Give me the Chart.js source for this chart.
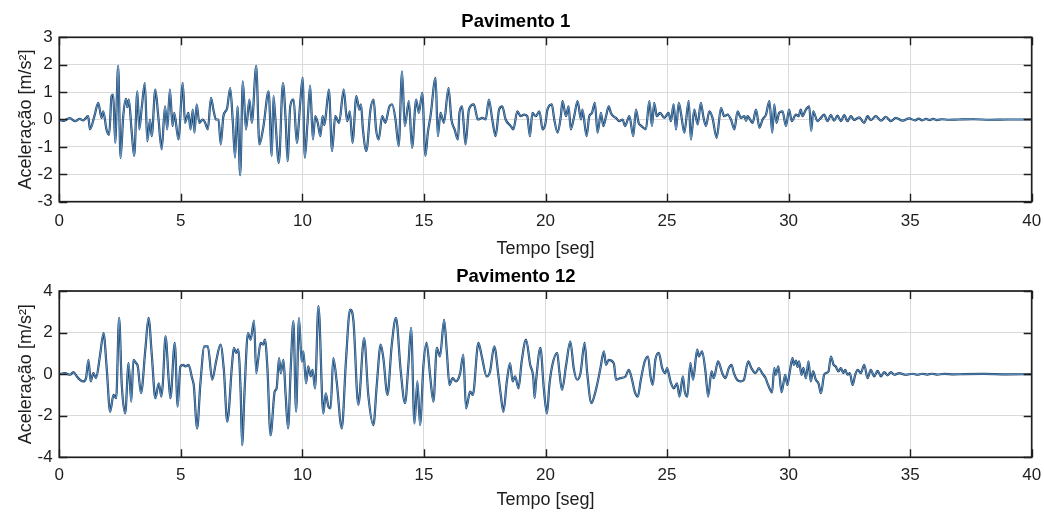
<!DOCTYPE html>
<html>
<head>
<meta charset="utf-8">
<script src="https://cdn.jsdelivr.net/npm/chart.js@4.4.1/dist/chart.umd.min.js"></script>
<style>
  html, body { margin: 0; padding: 0; background: #ffffff; }
  #wrap { position: relative; width: 1044px; height: 512px; overflow: hidden; }
  canvas { position: absolute; left: 0; }
  #c1 { top: 0; }
  #c2 { top: 262px; }
</style>
</head>
<body>
<div id="wrap">
  <canvas id="c1" width="1044" height="262"></canvas>
  <canvas id="c2" width="1044" height="250"></canvas>
</div>
<script>
// ---------- DATA ----------
const title1 = "Pavimento 1";
const title2 = "Pavimento 12";
const xTitle = "Tempo [seg]";
const yTitle = "Aceleração [m/s²]";

const xTickValues = [0, 5, 10, 15, 20, 25, 30, 35, 40];
const yTickValues1 = [-3, -2, -1, 0, 1, 2, 3];
const yTickValues2 = [-4, -2, 0, 2, 4];

// Pavimento 1 : time [s]
const time1 = [
  0, 0.16, 0.43, 0.64, 0.84, 0.98, 1.19, 1.26, 1.46, 1.60, 1.74, 1.81, 1.94, 2.05, 2.15, 2.22, 2.30, 2.42, 2.52, 2.63,
  2.74, 2.80, 2.86, 2.97, 3.08, 3.21, 3.29, 3.39, 3.52, 3.62, 3.73, 3.80, 3.95, 4.07, 4.21, 4.35, 4.44, 4.55, 4.66, 4.73,
  4.90, 5.08, 5.17, 5.31, 5.40, 5.49, 5.56, 5.65, 5.76, 5.90, 6.00, 6.11, 6.24, 6.34, 6.44, 6.55, 6.64, 6.75, 6.90, 7.03,
  7.14, 7.23, 7.33, 7.44, 7.55, 7.68, 7.82, 7.92, 8.10, 8.23, 8.40, 8.61, 8.74, 8.81, 8.88, 9.03, 9.20, 9.31, 9.39, 9.50,
  9.64, 9.77, 9.91, 10.01, 10.10, 10.21, 10.32, 10.43, 10.53, 10.63, 10.74, 10.83, 10.90, 10.96, 11.09, 11.22, 11.35, 11.51, 11.70, 11.84,
  11.95, 12.06, 12.22, 12.34, 12.41, 12.49, 12.63, 12.80, 12.93, 13.03, 13.14, 13.28, 13.41, 13.58, 13.69, 13.83, 13.96, 14.10, 14.21, 14.38,
  14.51, 14.68, 14.79, 14.93, 15.06, 15.16, 15.27, 15.48, 15.57, 15.68, 15.82, 16.01, 16.13, 16.26, 16.40, 16.46, 16.57, 16.64, 16.71, 16.85,
  17.05, 17.22, 17.40, 17.54, 17.67, 17.81, 17.95, 18.09, 18.22, 18.36, 18.57, 18.68, 18.84, 18.98, 19.12, 19.25, 19.36, 19.46, 19.60, 19.75,
  19.88, 19.99, 20.08, 20.26, 20.36, 20.50, 20.63, 20.70, 20.84, 20.95, 21.04, 21.18, 21.32, 21.46, 21.52, 21.69, 21.80, 21.91, 22.03, 22.14,
  22.28, 22.38, 22.49, 22.60, 22.69, 22.79, 22.90, 23.03, 23.17, 23.27, 23.45, 23.61, 23.72, 23.83, 23.95, 24.13, 24.27, 24.38, 24.47, 24.58,
  24.71, 24.89, 25.06, 25.16, 25.27, 25.37, 25.48, 25.57, 25.71, 25.89, 25.98, 26.12, 26.26, 26.39, 26.49, 26.60, 26.74, 26.87, 27.04, 27.22,
  27.35, 27.49, 27.63, 27.77, 27.90, 28.04, 28.18, 28.25, 28.31, 28.52, 28.66, 28.80, 28.93, 29.07, 29.21, 29.33, 29.41, 29.50, 29.61, 29.75,
  29.89, 30.02, 30.13, 30.30, 30.41, 30.50, 30.57, 30.71, 30.85, 30.93, 31.01, 31.19, 31.33, 31.46, 31.60, 31.74, 31.87, 32.01, 32.15, 32.29,
  32.42, 32.56, 32.70, 32.90, 33.11, 33.25, 33.38, 33.59, 33.80, 34.00, 34.21, 34.41, 34.69, 34.96, 35.20, 35.35, 35.50, 35.65, 35.80, 35.95,
  36.10, 36.30, 36.60, 37.00, 37.60, 38.30, 39.00, 40.00
];
// Pavimento 1 : acceleration [m/s2]
const accel1 = [
  0, -0.05, 0.05, -0.06, 0.02, -0.03, 0.12, -0.36, 0.18, 0.61, 0.06, 0.30, -0.36, -0.55, 0.85, 0.91, -0.85, 1.96, -1.40, 0.12,
  0.75, 0.45, 0.73, -0.36, -1.33, 1.03, -0.36, 0.42, 1.33, -0.79, 0.00, -0.61, 1.09, 0.12, -1.09, 0.48, -0.36, 1.09, -0.24, 0.24,
  -0.73, 1.33, -0.12, 0.24, -0.36, 0.36, -0.48, 0.55, -0.12, 0.00, -0.12, -0.36, 0.79, 0.36, 0.00, 0.00, -0.91, 0.12, 0.40, 1.15,
  -0.12, -1.39, 0.48, -2.03, 1.39, -0.36, 0.73, -0.12, 1.96, -0.91, -0.24, 1.03, -1.33, 0.85, 0.12, -1.58, 1.33, 0.00, -1.52, 0.48,
  0.73, -0.85, 0.61, 1.52, -1.39, -0.12, 1.24, -0.73, 0.12, -0.12, -0.61, 0.12, -0.20, 0.12, 1.09, -1.15, 0.12, -0.12, 1.09, -0.06,
  0.30, -0.85, 0.85, 0.36, 0.55, -0.36, -1.15, 0.36, 0.73, -0.36, -0.73, 0.12, -0.12, 0.48, 0.55, 0.00, -0.97, 1.76, -0.24, 0.67,
  -1.03, 0.73, 0.24, 0.97, -1.33, -0.48, 0.12, 1.52, -0.61, 0.24, -0.12, 1.15, 0.00, -0.36, -0.73, 0.24, 0.48, -0.24, -0.91, 0.36,
  0.55, 0.00, 0.06, 0.00, 0.73, 0.00, -0.61, 0.36, 0.48, 0.00, -0.24, -0.36, 0.30, 0.12, 0.18, 0.12, -0.61, 0.24, 0.12, 0.30,
  -0.36, -0.18, 0.36, 0.55, 0.00, -0.48, 0.12, 0.67, 0.12, 0.48, -0.36, 0.12, 0.67, 0.00, 0.36, -0.61, 0.12, 0.24, 0.61, -0.48,
  0.24, -0.24, 0.12, 0.48, 0.24, 0.12, 0.06, -0.06, 0.00, -0.24, 0.12, -0.61, 0.36, -0.12, -0.24, -0.36, 0.67, -0.24, 0.61, 0.12,
  0.24, 0.06, 0.24, -0.06, 0.55, -0.36, 0.61, 0.24, -0.48, 0.67, -0.73, 0.36, -0.18, 0.61, 0.12, -0.24, 0.30, 0.06, -0.67, 0.42,
  0.12, 0.18, 0.00, -0.36, 0.30, 0.06, 0.12, -0.05, 0.12, -0.12, 0.36, -0.30, 0.00, 0.18, 0.67, -0.48, 0.55, -0.12, 0.24, 0.30,
  -0.24, 0.36, -0.06, 0.18, 0.12, 0.36, 0.12, 0.36, 0.48, -0.42, 0.30, -0.06, 0.06, 0.18, -0.06, 0.16, -0.04, 0.14, -0.06, 0.16,
  -0.06, 0.12, -0.02, 0.08, -0.12, 0.12, -0.02, 0.12, -0.04, 0.10, -0.06, 0.06, -0.04, 0.04, -0.03, 0.03, -0.03, 0.02, -0.02, 0.02,
  -0.02, 0.01, -0.01, 0.00, 0.01, -0.01, 0.00, 0.00
];

// Pavimento 12 : time [s]
const time2 = [
  0, 0.23, 0.44, 0.58, 0.72, 0.85, 0.99, 1.10, 1.20, 1.29, 1.40, 1.51, 1.68, 1.82, 1.95, 2.09, 2.23, 2.34, 2.46, 2.57,
  2.71, 2.85, 2.96, 3.05, 3.16, 3.23, 3.36, 3.54, 3.67, 3.81, 3.95, 4.09, 4.20, 4.26, 4.37, 4.50, 4.57, 4.75, 4.87, 4.98,
  5.09, 5.19, 5.32, 5.46, 5.53, 5.67, 5.80, 5.97, 6.11, 6.29, 6.45, 6.63, 6.77, 6.91, 7.11, 7.18, 7.28, 7.36, 7.46, 7.52,
  7.62, 7.76, 7.87, 8.01, 8.10, 8.17, 8.28, 8.38, 8.46, 8.56, 8.69, 8.86, 8.94, 9.04, 9.11, 9.22, 9.31, 9.41, 9.52, 9.63,
  9.74, 9.86, 9.97, 10.04, 10.15, 10.24, 10.34, 10.42, 10.52, 10.66, 10.86, 10.96, 11.07, 11.16, 11.27, 11.41, 11.62, 11.79, 11.96, 12.10,
  12.30, 12.54, 12.71, 12.92, 13.06, 13.22, 13.33, 13.50, 13.67, 13.85, 14.04, 14.22, 14.36, 14.47, 14.61, 14.73, 14.84, 14.98, 15.11, 15.25,
  15.39, 15.53, 15.66, 15.83, 15.94, 16.05, 16.18, 16.32, 16.49, 16.62, 16.73, 16.90, 17.01, 17.24, 17.38, 17.58, 17.72, 17.89, 18.06, 18.16,
  18.27, 18.41, 18.54, 18.65, 18.75, 18.89, 19.02, 19.20, 19.37, 19.50, 19.55, 19.61, 19.79, 19.93, 20.06, 20.16, 20.27, 20.48, 20.57, 20.68,
  20.85, 21.02, 21.16, 21.30, 21.44, 21.61, 21.71, 21.89, 21.98, 22.12, 22.26, 22.40, 22.49, 22.60, 22.81, 22.90, 23.08, 23.29, 23.43, 23.56,
  23.67, 23.80, 23.91, 24.08, 24.22, 24.32, 24.41, 24.52, 24.66, 24.80, 24.93, 25.00, 25.14, 25.28, 25.41, 25.51, 25.65, 25.73, 25.83, 25.96,
  26.07, 26.24, 26.31, 26.44, 26.58, 26.69, 26.83, 26.92, 27.10, 27.27, 27.40, 27.54, 27.65, 27.75, 27.88, 28.02, 28.16, 28.34, 28.47, 28.64,
  28.78, 28.91, 29.05, 29.16, 29.32, 29.41, 29.47, 29.58, 29.71, 29.86, 29.95, 30.05, 30.16, 30.22, 30.30, 30.37, 30.43, 30.53, 30.61, 30.71,
  30.82, 30.91, 31.01, 31.12, 31.23, 31.33, 31.46, 31.53, 31.64, 31.74, 31.85, 31.94, 32.05, 32.15, 32.25, 32.33, 32.42, 32.52, 32.63, 32.74,
  32.84, 32.97, 33.11, 33.25, 33.38, 33.52, 33.66, 33.80, 33.93, 34.07, 34.21, 34.34, 34.55, 34.82, 35.10, 35.30, 35.50, 35.70, 35.90, 36.10,
  36.40, 36.80, 37.20, 38.00, 39.00, 40.00
];
// Pavimento 12 : acceleration [m/s2]
const accel2 = [
  0, 0.05, -0.03, 0.10, -0.11, -0.27, -0.35, -0.19, 0.69, -0.35, 0.05, -0.19, 0.94, 1.98, 0.29, -1.81, -1.00, -1.16, 2.71, -0.52,
  -1.89, 0.53, -1.32, 0.69, 0.53, 0.37, -0.92, 1.19, 2.71, 0.85, -1.16, -0.44, -1.08, -0.44, 1.82, -0.27, -1.16, 1.50, -1.56, 0.37,
  0.45, 0.37, 0.45, -0.19, -0.52, -2.61, -0.52, 1.34, 1.34, -0.27, 0.61, 1.42, 0.19, -2.29, 0.53, 1.27, 1.02, 1.19, -0.84, -3.42,
  -0.84, 1.98, 1.66, 2.58, 0.05, 0.61, 1.50, 1.42, 1.66, 0.30, -2.94, -0.84, -0.68, 0.77, 0.05, 0.69, -1.00, -2.61, 0.29, 2.55,
  -1.80, 2.70, 0.61, 1.10, -0.44, 0.37, -0.11, 0.21, -0.68, 3.27, -1.89, -0.92, -1.56, -1.65, 0.77, -0.35, -2.61, 0.61, 3.11, 2.55,
  -1.48, 1.74, -1.00, -2.45, -0.52, 1.42, 0.77, -1.00, 1.34, 2.71, 0.21, -1.40, 0.45, 2.23, -2.37, -0.35, -2.45, 0.45, 1.50, -0.03,
  -1.32, 1.26, 0.85, 2.61, 1.10, -0.52, -0.19, -0.35, 0.05, 0.94, -1.65, -0.84, -1.00, 1.50, 0.85, -0.11, 0.13, 1.34, -0.03, -1.00,
  -1.81, -0.35, 0.53, -0.35, -0.11, -0.68, 0.61, 1.66, 0.45, -0.19, -1.15, -0.35, 1.26, -0.68, -1.89, -0.52, 0.37, 1.02, 0.13, -0.76,
  0.45, 1.58, 0.29, -0.27, 0.05, 1.50, 0.13, -1.40, -1.16, -0.52, 0.29, 1.10, 0.45, 0.69, 0.53, -0.27, -0.19, -0.11, 0.21, -0.27,
  -0.84, -1.08, -0.35, 0.61, 0.85, -0.11, -0.52, 0.69, 1.02, 0.29, 0.05, 0.29, -0.35, -0.68, -0.44, -1.08, -0.11, -0.84, -1.08, 0.53,
  -0.27, 1.18, 0.85, 1.10, 0.13, -1.08, 0.13, -0.19, 0.61, 0.05, -0.19, 0.29, 0.45, 0.05, -0.27, -0.35, -0.27, 0.61, 0.29, 0.05,
  0.29, 0.05, -0.19, -0.52, -0.88, 0.29, -0.03, 0.37, -0.87, -0.03, -0.52, 0.13, 0.77, 0.45, 0.65, 0.35, 0.61, -0.03, 0.29, -0.19,
  0.61, -0.35, 0.13, -0.27, -0.44, -0.92, -0.03, 0.05, 0.13, 0.85, 0.45, 0.37, 0.13, 0.29, 0.05, 0.21, -0.03, 0.05, -0.52, -0.03,
  0.21, 0.05, 0.45, -0.19, 0.21, -0.11, 0.16, -0.11, 0.10, -0.06, 0.10, -0.03, 0.05, -0.03, 0.02, -0.03, 0.02, -0.02, 0.02, -0.02,
  0.01, -0.01, 0.00, 0.01, -0.01, 0.00
];

// ---------- STYLE ----------
const FONT = "'Liberation Sans', Arial, Helvetica, sans-serif";
const LINE_DARK = '#163c63';
const LINE_LIGHT = '#7db2e3';
const GRID_COLOR = '#dadada';
const AXIS_COLOR = '#1e1e1e';

const framePlugin = {
  id: 'frame',
  afterDatasetsDraw(chart) {
    const { ctx, chartArea: a, scales } = chart;
    const x = scales.x, y = scales.y;
    ctx.save();
    ctx.strokeStyle = AXIS_COLOR;
    ctx.lineWidth = 1.4;
    ctx.beginPath();
    x.ticks.forEach(t => {
      const px = Math.round(x.getPixelForValue(t.value)) + 0.5;
      ctx.moveTo(px, a.bottom); ctx.lineTo(px, a.bottom - 8);
      ctx.moveTo(px, a.top); ctx.lineTo(px, a.top + 8);
    });
    y.ticks.forEach(t => {
      const py = Math.round(y.getPixelForValue(t.value)) + 0.5;
      ctx.moveTo(a.left, py); ctx.lineTo(a.left + 8, py);
      ctx.moveTo(a.right, py); ctx.lineTo(a.right - 8, py);
    });
    ctx.stroke();
    ctx.lineWidth = 1.7;
    ctx.strokeRect(a.left, a.top, a.right - a.left, a.bottom - a.top);
    ctx.restore();
  }
};

function makeChart(canvasId, cfg) {
  const pts = cfg.t.map((tv, i) => ({ x: tv, y: cfg.a[i] }));
  return new Chart(document.getElementById(canvasId), {
    type: 'line',
    data: {
      datasets: [{
        data: pts,
        borderColor: LINE_LIGHT,
        borderWidth: 0.8,
        pointRadius: 0,
        fill: false,
        order: 0,
        cubicInterpolationMode: 'monotone'
      }, {
        data: pts,
        borderColor: LINE_DARK,
        borderWidth: 2.2,
        pointRadius: 0,
        fill: false,
        order: 1,
        cubicInterpolationMode: 'monotone'
      }]
    },
    options: {
      responsive: false,
      animation: false,
      devicePixelRatio: 1,
      events: [],
      layout: { padding: { left: 0, right: 12.3, top: 0, bottom: 0 } },
      plugins: {
        legend: { display: false },
        tooltip: { enabled: false },
        title: {
          display: true,
          text: cfg.title,
          color: '#000000',
          font: { family: FONT, size: 18.5, weight: 'bold', lineHeight: 1.2 },
          padding: cfg.titlePad
        }
      },
      scales: {
        x: {
          type: 'linear',
          min: 0, max: 40,
          afterBuildTicks: s => { s.ticks = xTickValues.map(v => ({ value: v })); },
          afterFit: s => { s.height = cfg.xHeight; s.paddingLeft = 0; s.paddingRight = 0; },
          grid: { color: GRID_COLOR, lineWidth: 1, drawTicks: false },
          border: { display: false },
          ticks: {
            color: AXIS_COLOR, padding: cfg.xTickPad, maxRotation: 0, autoSkip: false,
            font: { family: FONT, size: 17 }
          },
          title: {
            display: true, text: xTitle, color: AXIS_COLOR,
            font: { family: FONT, size: 18 , lineHeight: 1.2 },
            padding: { top: 0, bottom: cfg.xTitlePad }
          }
        },
        y: {
          type: 'linear',
          min: cfg.yMin, max: cfg.yMax,
          afterBuildTicks: s => { s.ticks = cfg.yTicks.map(v => ({ value: v })); },
          afterFit: s => { s.width = 59.3; s.paddingTop = 0; s.paddingBottom = 0; },
          grid: { color: GRID_COLOR, lineWidth: 1, drawTicks: false },
          border: { display: false },
          ticks: {
            color: AXIS_COLOR, padding: 6.6, autoSkip: false,
            font: { family: FONT, size: 17 }
          },
          title: {
            display: true, text: yTitle, color: AXIS_COLOR,
            font: { family: FONT, size: 18, lineHeight: 1.2 },
            padding: { top: 15, bottom: 0 }
          }
        }
      }
    },
    plugins: [framePlugin]
  });
}

makeChart('c1', {
  t: time1, a: accel1, title: title1,
  yMin: -3, yMax: 3, yTicks: yTickValues1,
  titlePad: { top: 10.6, bottom: 4.5 },
  xHeight: 60.3, xTickPad: 9.8, xTitlePad: 2.3
});
makeChart('c2', {
  t: time2, a: accel2, title: title2,
  yMin: -4, yMax: 4, yTicks: yTickValues2,
  titlePad: { top: 3.6, bottom: 3.2 },
  xHeight: 54.7, xTickPad: 7.5, xTitlePad: 1.2
});
</script>
</body>
</html>
